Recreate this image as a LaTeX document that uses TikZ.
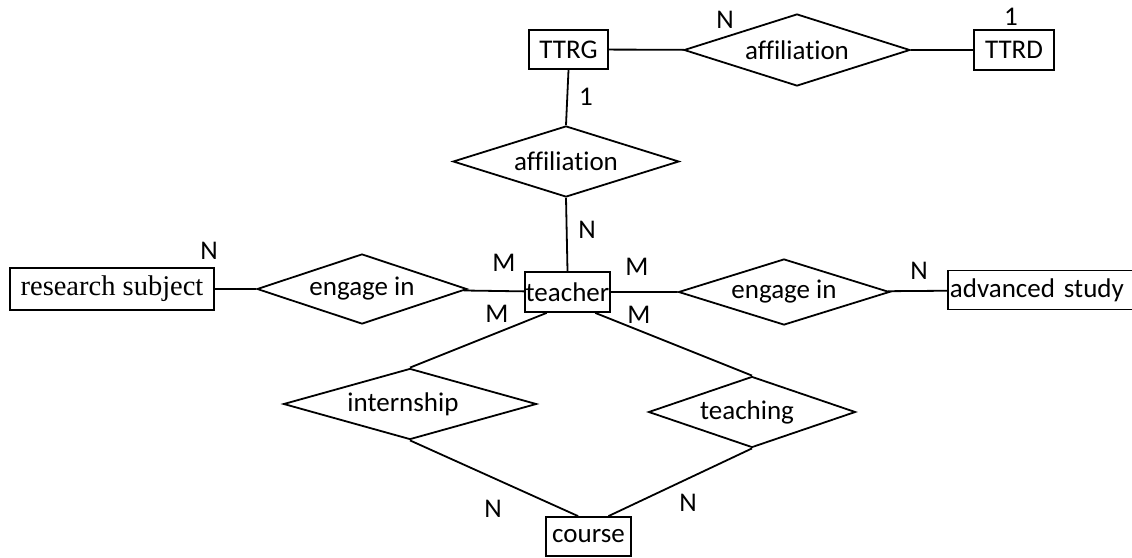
\documentclass[tikz,border=0pt]{standalone}
\usepackage{fontspec}
\setmainfont{Carlito}[Ligatures=NoCommon]
\newfontfamily\timesfont{Liberation Serif}
\usetikzlibrary{shapes.geometric,calc}
\begin{document}
\begin{tikzpicture}[x=1pt,y=-1pt,line width=1.8pt,
 every node/.style={font=\fontsize{27}{31}\selectfont},
 entity/.style={draw,rectangle,inner sep=0pt},
 relation/.style={draw,diamond,inner sep=0pt,label={[xshift=\textshift]center:#1}},
 card/.style={inner sep=0pt}]
 \def\textshift{0pt}
 \useasboundingbox (0,0) rectangle (1132,557);
 % entities
 \node[entity,minimum width=79pt,minimum height=39pt] (ttrg) at (568.5,49.5) {TTRG};
 \node[entity,minimum width=80pt,minimum height=40pt] (ttrd) at (1014,50) {TTRD};
 \node[entity,minimum width=85pt,minimum height=40pt] (teacher) at (567.5,292) {teacher};
 \node[entity,minimum width=204pt,minimum height=42pt,font=\fontsize{28.5}{32}\timesfont] (research) at (112,289) {research subject};
 \node[entity,anchor=west,text width=186pt,inner xsep=2pt,minimum height=39pt,align=left] (advanced) at (947,290) {advanced study};
 \node[entity,minimum width=85pt,minimum height=39pt] (course) at (588.5,536.5) {course};
 % relations
 \node[relation=affiliation,minimum width=226pt,minimum height=72pt] (affTop) at (797,50) {};
 \node[relation=affiliation,minimum width=226pt,minimum height=71pt] (affMid) at (566,161.5) {};
 \node[relation=engage in,minimum width=210pt,minimum height=70pt] (engLeft) at (362,289) {};
 \node[relation=engage in,minimum width=211pt,minimum height=66pt] (engRight) at (784,292) {};
 \def\textshift{-7pt}
 \node[relation=internship,minimum width=253pt,minimum height=71pt] (intern) at (410,404) {};
 \def\textshift{-5pt}
 \node[relation=teaching,minimum width=207pt,minimum height=71pt] (teach) at (752,412) {};
 % connectors
 \draw (ttrg) -- (affTop) -- (ttrd);
 \draw (ttrg.south) -- (affMid.north);
 \draw (affMid.south) -- (teacher.north);
 \draw (research) -- (engLeft) -- (teacher);
 \draw (teacher) -- (engRight) -- (advanced);
 \draw ($(teacher.south west)!.26!(teacher.south east)$) -- (intern.north);
 \draw ($(teacher.south west)!.82!(teacher.south east)$) -- (teach.north);
 \draw (intern.south) -- ($(course.north west)!.38!(course.north east)$);
 \draw (teach.south) -- ($(course.north west)!.73!(course.north east)$);
 % cardinalities
 \node[card] (cTop1) at (725,20) {N};
 \node[card] (cTop2) at (1011,17) {1};
 \node[card] (cMid1) at (586,97) {1};
 \node[card] (cMid2) at (587,230) {N};
 \node[card] (cRes) at (209,251) {N};
 \node[card] (cTl) at (504,263) {M};
 \node[card] (cTr) at (637,267) {M};
 \node[card] (cAdv) at (919,271) {N};
 \node[card] (cBl) at (497,314) {M};
 \node[card] (cBr) at (639,315) {M};
 \node[card] (cCl) at (493,509) {N};
 \node[card] (cCr) at (688,503) {N};
\end{tikzpicture}
\end{document}
